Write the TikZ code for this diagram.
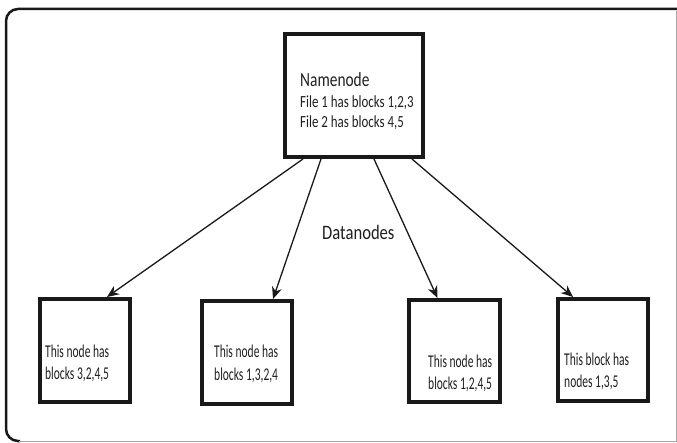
\documentclass[tikz,border=0pt]{standalone}
\usepackage{fontspec}
\setmainfont{Carlito}[FakeStretch=0.77]
\newfontfamily\titlefont{Carlito}[FakeStretch=0.77]
\newfontfamily\filefont{Carlito}[FakeStretch=0.76]
\newfontfamily\blockfont{Carlito}[FakeStretch=0.64]
\newfontfamily\labelfont{Carlito}[FakeStretch=0.81]
\usetikzlibrary{arrows.meta}
\begin{document}
\begin{tikzpicture}[x=1pt,y=-1pt,
  boxnode/.style={draw=black!90,line width=4pt,minimum width=#1pt,inner sep=0pt},
  txt/.style={anchor=base west,inner sep=0pt,text=black!88},
  dtxt/.style={txt,font=\blockfont\fontsize{18}{22}\selectfont},
  ftxt/.style={txt,font=\filefont\fontsize{17}{20}\selectfont},
  arr/.style={line width=1.3pt,draw=black!90,-{Stealth[length=12pt,width=10pt]}}]
  \useasboundingbox (0,0) rectangle (677,443);
  % outer frame: dark top and left edges, light bottom and right edges
  \draw[line width=2.5pt,black!90,rounded corners=12pt] (678,9) -- (6,9) -- (6,441) -- (20,441);
  \draw[line width=0.8pt,black!35] (19,441) -- (676,441) -- (676,11);
  % name node
  \node[boxnode=138,minimum height=123pt] (nn) at (354,95.5) {};
  \node[txt,font=\titlefont\fontsize{20}{22}\selectfont] (nnt) at (300,87) {Namenode};
  \node[ftxt] (nnf1) at (300,107.5) {File 1 has blocks 1,2,3};
  \node[ftxt] (nnf2) at (300,127.5) {File 2 has blocks 4,5};
  % data nodes
  \node[boxnode=90,minimum height=103pt] (d1) at (85,350.5) {};
  \node[boxnode=90,minimum height=103pt] (d2) at (247,352.5) {};
  \node[boxnode=91,minimum height=102pt] (d3) at (454.5,351) {};
  \node[boxnode=90,minimum height=102pt] (d4) at (603,350) {};
  \node[dtxt] (t1a) at (45,357) {This node has};
  \node[dtxt] (t1b) at (45,379) {blocks 3,2,4,5};
  \node[dtxt] (t2a) at (214,358) {This node has};
  \node[dtxt] (t2b) at (214,380) {blocks 1,3,2,4};
  \node[dtxt] (t3a) at (428,367) {This node has};
  \node[dtxt] (t3b) at (428,389) {blocks 1,2,4,5};
  \node[dtxt] (t4a) at (564,365) {This block has};
  \node[dtxt] (t4b) at (564,387) {nodes 1,3,5};
  \node[txt,font=\labelfont\fontsize{20.5}{22}\selectfont] (dn) at (322,240) {Datanodes};
  % connectors
  \draw[arr] ([xshift=-51pt]nn.south) -- ([xshift=22pt]d1.north);
  \draw[arr] ([xshift=-33pt]nn.south) -- ([xshift=26pt]d2.north);
  \draw[arr] ([xshift=20pt]nn.south) -- ([xshift=-17pt]d3.north);
  \draw[arr] ([xshift=58pt]nn.south) -- ([xshift=-30pt]d4.north);
\end{tikzpicture}
\end{document}
